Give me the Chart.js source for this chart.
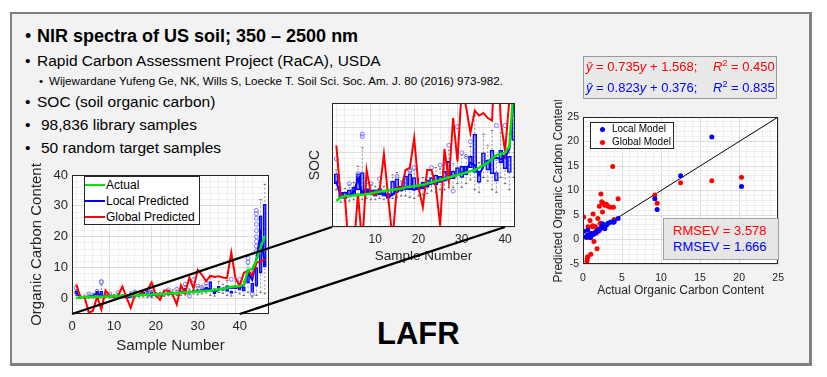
<!DOCTYPE html>
<html>
<head>
<meta charset="utf-8">
<script src="https://cdn.jsdelivr.net/npm/chart.js@4.4.0/dist/chart.umd.min.js"></script>
<style>
  body { margin:0; width:827px; height:377px; background:#fff; overflow:hidden; position:relative;
         font-family:"Liberation Sans", Arial, sans-serif; }
  #slide { position:absolute; left:10px; top:12px; width:797px; height:349px; background:#f2f2f2;
           border:2px solid #808080; border-right-width:3px; border-bottom-width:3px; }
  .t { position:absolute; white-space:nowrap; color:#000; }
  .t .dot { position:absolute; left:-12px; }
  canvas { position:absolute; }
  .box { position:absolute; box-sizing:border-box; }
  .lg { position:absolute; white-space:nowrap; color:#000; }
  .ln { position:absolute; height:2px; }
  .pt { position:absolute; width:5px; height:5px; border-radius:50%; }
  sup { font-size:9px; vertical-align:5px; line-height:0; }
  svg { position:absolute; left:0; top:0; }
</style>
</head>
<body>
<div id="slide"></div>

<div class="t" style="left:37px;top:25.5px;font-size:18px;line-height:20px;font-weight:bold;"><span class="dot" style="font-weight:normal">•</span>NIR spectra of US soil; 350 – 2500 nm</div>
<div class="t" style="left:37px;top:50.5px;font-size:15.5px;line-height:20px;"><span class="dot">•</span>Rapid Carbon Assessment Project (RaCA), USDA</div>
<div class="t" style="left:49px;top:73.5px;font-size:11.6px;line-height:14px;"><span class="dot" style="left:-10px">•</span>Wijewardane Yufeng Ge, NK, Wills S, Loecke T. Soil Sci. Soc. Am. J. 80 (2016) 973-982.</div>
<div class="t" style="left:37px;top:92px;font-size:15.5px;line-height:20px;"><span class="dot">•</span>SOC (soil organic carbon)</div>
<div class="t" style="left:41px;top:115px;font-size:15.5px;line-height:20px;"><span class="dot" style="left:-16px">•</span>98,836 library samples</div>
<div class="t" style="left:41px;top:137.5px;font-size:15.5px;line-height:20px;"><span class="dot" style="left:-16px">•</span>50 random target samples</div>
<div class="t" style="left:377px;top:316.5px;font-size:31px;line-height:34px;font-weight:bold;">LAFR</div>

<canvas id="leftChart" width="252" height="198" style="left:22px;top:158px"></canvas>
<canvas id="insetChart" width="220" height="173" style="left:300px;top:92px"></canvas>
<canvas id="scatterChart" width="244" height="199" style="left:548px;top:100px"></canvas>

<!-- left legend -->
<div class="box" style="left:84px;top:176px;width:116px;height:49px;background:#fff;border:1px solid #262626;"></div>
<div class="ln" style="left:85px;top:184px;width:20px;background:#00e600"></div>
<div class="lg" style="left:106px;top:178px;font-size:12px;line-height:14px">Actual</div>
<div class="ln" style="left:85px;top:200px;width:20px;background:#0000ff"></div>
<div class="lg" style="left:106px;top:194px;font-size:12px;line-height:14px">Local Predicted</div>
<div class="ln" style="left:85px;top:216px;width:20px;background:#ff0000"></div>
<div class="lg" style="left:106px;top:210px;font-size:12px;line-height:14px">Global Predicted</div>

<!-- equation box -->
<div class="box" style="left:583px;top:56px;width:194px;height:43px;background:#e9e9e9;border:1px solid #9a9a9a;"></div>
<div class="lg" style="left:586px;top:59px;font-size:13px;line-height:16px;color:#ff0000"><i>ŷ</i> = 0.735<i>y</i> + 1.568;</div>
<div class="lg" style="left:713px;top:59px;font-size:13px;line-height:16px;color:#ff0000"><i>R</i><sup>2</sup> = 0.450</div>
<div class="lg" style="left:586px;top:80px;font-size:13px;line-height:16px;color:#0000ff"><i>ŷ</i> = 0.823<i>y</i> + 0.376;</div>
<div class="lg" style="left:713px;top:80px;font-size:13px;line-height:16px;color:#0000ff"><i>R</i><sup>2</sup> = 0.835</div>

<!-- scatter legend -->
<div class="box" style="left:590px;top:122px;width:84px;height:27px;background:#fff;border:1px solid #262626;"></div>
<div class="pt" style="left:599.5px;top:126.5px;background:#0000ff"></div>
<div class="lg" style="left:612px;top:123px;font-size:10px;line-height:12px">Local Model</div>
<div class="pt" style="left:599.5px;top:139.5px;background:#ff0000"></div>
<div class="lg" style="left:612px;top:136px;font-size:10px;line-height:12px">Global Model</div>

<!-- RMSEV box -->
<div class="box" style="left:663px;top:218px;width:116px;height:42px;background:#e6e6e6;border:1px solid #a0a0a0;"></div>
<div class="lg" style="left:673px;top:223px;font-size:13px;line-height:16px;color:#ff0000">RMSEV = 3.578</div>
<div class="lg" style="left:673px;top:239px;font-size:13px;line-height:16px;color:#0000ff">RMSEV = 1.666</div>

<svg id="zoomLines" width="827" height="377"></svg>

<script>
// sample numbers and measured / predicted soil organic carbon
const sampleNo = [1,2,3,4,5,6,7,8,9,10,11,12,13,14,15,16,17,18,19,20,21,22,23,24,25,26,27,28,29,30,31,32,33,34,35,36,37,38,39,40,41,42,43,44,45,46];
const actual = [0.1,0.4,0.5,0.5,0.55,0.6,0.6,0.65,0.7,0.8,0.85,0.9,0.95,1.0,1.05,1.1,1.2,1.25,1.3,1.35,1.4,1.5,1.6,1.7,1.8,1.9,2.0,2.1,2.2,2.3,2.4,2.5,2.6,2.8,3.0,3.2,3.5,3.8,3.9,4.0,4.5,9.2,9.5,12.5,16.5,20.3];
const localPred = [1.7,0.5,0.5,0.6,0.8,1.9,0.8,0.9,0.8,0.7,0.8,0.7,0.4,0.6,1.0,1.1,1.2,1.1,1.0,1.2,1.3,1.4,1.5,1.6,1.7,1.8,1.9,2.0,2.2,2.4,2.6,3.2,3.0,2.2,2.9,3.3,3.5,3.6,3.5,3.6,4.3,8.3,6.1,13.0,20.9,10.8];
const globalPred = [4.6,0.5,0.4,-4.5,-4.0,0.7,-3.5,2.6,0.7,0.6,0.9,3.9,0.4,-3.0,1.2,1.1,2.6,2.8,5.2,1.2,-0.4,2.6,2.6,1.3,-1.9,4.3,1.7,6.8,3.3,9.3,7.7,5.6,7.4,7.0,7.2,6.8,6.6,14.9,6.6,4.1,8.3,9.1,7.4,11.6,12.0,12.7];

// local model box plots (per target sample)
const boxLow = [1.5,0.3,0.3,0.4,0.6,1.0,0.7,0.7,0.6,0.5,0.6,0.5,0.3,0.6,0.8,0.9,1.0,1.0,1.0,1.0,1.1,1.2,1.5,1.4,1.6,1.7,2.1,1.9,2.2,2.0,2.2,2.8,2.4,1.6,3.0,2.6,2.3,1.7,3.2,2.7,2.4,5.0,2.0,4.0,8.2,10.3];
const boxHigh = [2.3,0.8,0.8,1.0,1.2,2.3,2.4,1.1,1.0,1.0,1.1,0.9,0.7,1.7,1.9,1.3,2.1,2.3,2.0,1.4,1.6,1.8,2.0,2.2,2.1,2.5,3.3,2.5,2.8,2.9,2.9,3.7,5.5,2.5,4.0,3.4,4.2,2.4,4.2,3.8,3.7,8.5,5.0,10.0,26.8,30.5];
const whiskLow = [1.0,0.0,0.1,0.1,0.2,0.3,0.2,0.3,0.2,0.2,0.3,0.2,0.0,0.3,0.4,0.5,0.5,0.4,0.3,0.5,0.6,0.7,0.9,0.8,1.0,1.0,1.2,1.2,1.5,1.2,1.5,1.8,1.0,0.8,2.0,1.7,1.0,0.8,2.0,1.5,1.0,2.0,0.5,1.0,2.0,1.5];
const whiskHigh = [2.6,1.2,1.1,1.4,1.6,2.9,4.4,1.5,1.4,1.3,1.6,1.3,1.0,2.2,2.4,1.7,2.6,2.8,2.6,1.9,2.0,2.3,2.6,2.8,2.7,3.2,4.2,3.1,3.6,3.8,3.7,4.5,7.0,3.2,5.5,4.6,5.8,3.4,5.6,5.0,5.5,11.0,7.0,14.0,32.0,37.0];
const outlierX = [1,4,6,7,7,9,11,15,18,18,19,23,25,27,28,29,30,31,32,38,40,42,42,43,43,44,44,44,44,44,44,44,44,44];
const outlierY = [3.5,1.5,2.3,5.3,5.5,1.5,1.9,2.1,2.5,2.6,2.8,2.8,3.0,4.6,0.9,6.1,4.0,3.7,4.9,6.2,6.2,11.8,13.0,1.5,8.0,15.5,17,18.5,20,22,24,26,27.5,28.5];

Chart.defaults.font.family = '"Liberation Sans", Arial, sans-serif';
Chart.defaults.color = '#262626';
Chart.defaults.animation = false;

const axesFrame = {
  id: 'axesFrame',
  beforeDraw(chart) {
    const {ctx, chartArea: a} = chart;
    ctx.save();
    ctx.fillStyle = '#ffffff';
    ctx.fillRect(a.left, a.top, a.width, a.height);
    ctx.restore();
  },
  afterDraw(chart) {
    const {ctx, chartArea: a} = chart;
    ctx.save();
    ctx.strokeStyle = '#262626';
    ctx.lineWidth = 1;
    ctx.strokeRect(Math.round(a.left) + 0.5, Math.round(a.top) + 0.5, Math.round(a.width) - 1, Math.round(a.height) - 1);
    ctx.restore();
  }
};

function gridColor(major) {
  return ctx => (ctx.tick && Math.abs(ctx.tick.value % major) < 1e-6) ? '#dcdcdc' : '#efefef';
}

function seriesDatasets(barWidth) {
  const whiskers = [];
  sampleNo.forEach((n, i) => {
    whiskers.push({x: n, y: whiskLow[i]}, {x: n, y: whiskHigh[i]}, {x: n, y: null});
  });
  return [
    {type: 'line', data: sampleNo.map((n, i) => ({x: n, y: actual[i]})), borderColor: '#00e600', borderWidth: 2.5, pointRadius: 0, order: 1},
    {type: 'line', data: sampleNo.map((n, i) => ({x: n, y: globalPred[i]})), borderColor: '#ff0000', borderWidth: 2, pointRadius: 0, order: 2},
    {type: 'line', data: sampleNo.map((n, i) => ({x: n, y: localPred[i]})), borderColor: '#0000ff', borderWidth: 2, pointRadius: 0, order: 3},
    {type: 'line', data: outlierX.map((n, i) => ({x: n, y: outlierY[i]})), showLine: false, pointRadius: 2, pointBorderWidth: 1,
      pointBackgroundColor: 'rgba(0,0,0,0)', pointBorderColor: '#7878ff', order: 4},
    {type: 'bar', data: sampleNo.map((n, i) => ({x: n, y: [boxLow[i], boxHigh[i]]})), backgroundColor: 'rgba(90,90,255,0.35)',
      borderColor: '#0000ff', borderWidth: 1, borderSkipped: false, barThickness: barWidth, order: 5},
    {type: 'line', data: whiskers, borderColor: '#555', borderWidth: 0.6, borderDash: [2, 2], spanGaps: false,
      pointStyle: 'line', pointRadius: 1.2, pointBorderColor: '#333', pointBorderWidth: 0.7, order: 6}
  ];
}

function linearAxis(cfg) {
  return {
    type: 'linear', min: cfg.min, max: cfg.max, offset: false,
    afterFit: s => { if (cfg.width) s.width = cfg.width; if (cfg.height) s.height = cfg.height; },
    ticks: {stepSize: cfg.step, autoSkip: false, maxRotation: 0, padding: cfg.pad, font: {size: cfg.font},
      callback: v => cfg.label(v) ? v : ''},
    grid: {color: gridColor(cfg.major), drawTicks: false, lineWidth: 1},
    border: {display: false},
    title: {display: !!cfg.title, text: cfg.title, font: {size: cfg.titleFont}, padding: cfg.titlePad, color: '#262626'}
  };
}

const leftCanvas = document.getElementById('leftChart');
const leftChart = new Chart(leftCanvas, {
  type: 'line',
  data: {datasets: seriesDatasets(3)},
  options: {
    responsive: false,
    layout: {padding: {left: 0, right: 4, top: 17, bottom: 0}},
    elements: {line: {tension: 0}},
    plugins: {legend: {display: false}, tooltip: {enabled: false}},
    scales: {
      x: linearAxis({min: 0, max: 47, step: 2, major: 10, height: 42, pad: 5, font: 13, label: v => v % 10 === 0,
        title: 'Sample Number', titleFont: 15, titlePad: {top: 0, bottom: 1}}),
      y: linearAxis({min: -5, max: 40, step: 2, major: 10, width: 50, pad: 4, font: 13, label: v => v % 10 === 0,
        title: 'Organic Carbon Content', titleFont: 15, titlePad: {top: 6, bottom: 0}})
    }
  },
  plugins: [axesFrame]
});

const insetCanvas = document.getElementById('insetChart');
const insetChart = new Chart(insetCanvas, {
  type: 'line',
  data: {datasets: seriesDatasets(4)},
  options: {
    responsive: false,
    layout: {padding: {left: 0, right: 3, top: 8, bottom: 0}},
    elements: {line: {tension: 0}},
    plugins: {legend: {display: false}, tooltip: {enabled: false}},
    scales: {
      x: linearAxis({min: 0, max: 42.3, step: 2, major: 10, height: 38, pad: 5, font: 12, label: v => v > 0 && v % 10 === 0,
        title: 'Sample Number', titleFont: 13.5, titlePad: {top: 0, bottom: 1}}),
      y: linearAxis({min: -2, max: 8, step: 0.5, major: 2, width: 32, pad: 4, font: 12, label: v => false,
        title: 'SOC', titleFont: 14, titlePad: {top: 6.5, bottom: 0}})
    }
  },
  plugins: [axesFrame]
});

const scatterCanvas = document.getElementById('scatterChart');
new Chart(scatterCanvas, {
  type: 'scatter',
  data: {datasets: [
    {type: 'line', data: [{x: 0, y: 0}, {x: 25, y: 25}], borderColor: '#000', borderWidth: 1, pointRadius: 0, order: 3},
    {data: actual.map((a, i) => ({x: a, y: globalPred[i]})), pointRadius: 2.5, backgroundColor: '#ff0000', borderWidth: 0, order: 2},
    {data: actual.map((a, i) => ({x: a, y: localPred[i]})), pointRadius: 2.5, backgroundColor: '#0000ff', borderWidth: 0, order: 1}
  ]},
  options: {
    responsive: false,
    layout: {padding: {left: 0, right: 6, top: 17, bottom: 0}},
    plugins: {legend: {display: false}, tooltip: {enabled: false}},
    scales: {
      x: linearAxis({min: 0, max: 25, step: 1, major: 5, height: 35, pad: 8, font: 10.5, label: v => v % 5 === 0,
        title: 'Actual Organic Carbon Content', titleFont: 12, titlePad: {top: 0, bottom: 1}}),
      y: linearAxis({min: -5, max: 25, step: 1, major: 5, width: 35, pad: 4, font: 10.5, label: v => v % 5 === 0,
        title: 'Predicted Organic Carbon Content', titleFont: 12, titlePad: {top: 3, bottom: 0}})
    }
  },
  plugins: [axesFrame]
});

// zoom lines from the full plot to the inset
function pagePoint(chart, canvas, xv, yv) {
  return [canvas.offsetLeft + chart.scales.x.getPixelForValue(xv), canvas.offsetTop + chart.scales.y.getPixelForValue(yv)];
}
const svg = document.getElementById('zoomLines');
[0, 40].forEach(n => {
  const a = pagePoint(leftChart, leftCanvas, n, -5);
  const b = pagePoint(insetChart, insetCanvas, n, -2);
  const line = document.createElementNS('http://www.w3.org/2000/svg', 'line');
  line.setAttribute('x1', a[0]); line.setAttribute('y1', a[1]);
  line.setAttribute('x2', b[0]); line.setAttribute('y2', b[1]);
  line.setAttribute('stroke', '#000'); line.setAttribute('stroke-width', '2.3');
  svg.appendChild(line);
});
</script>
</body>
</html>
